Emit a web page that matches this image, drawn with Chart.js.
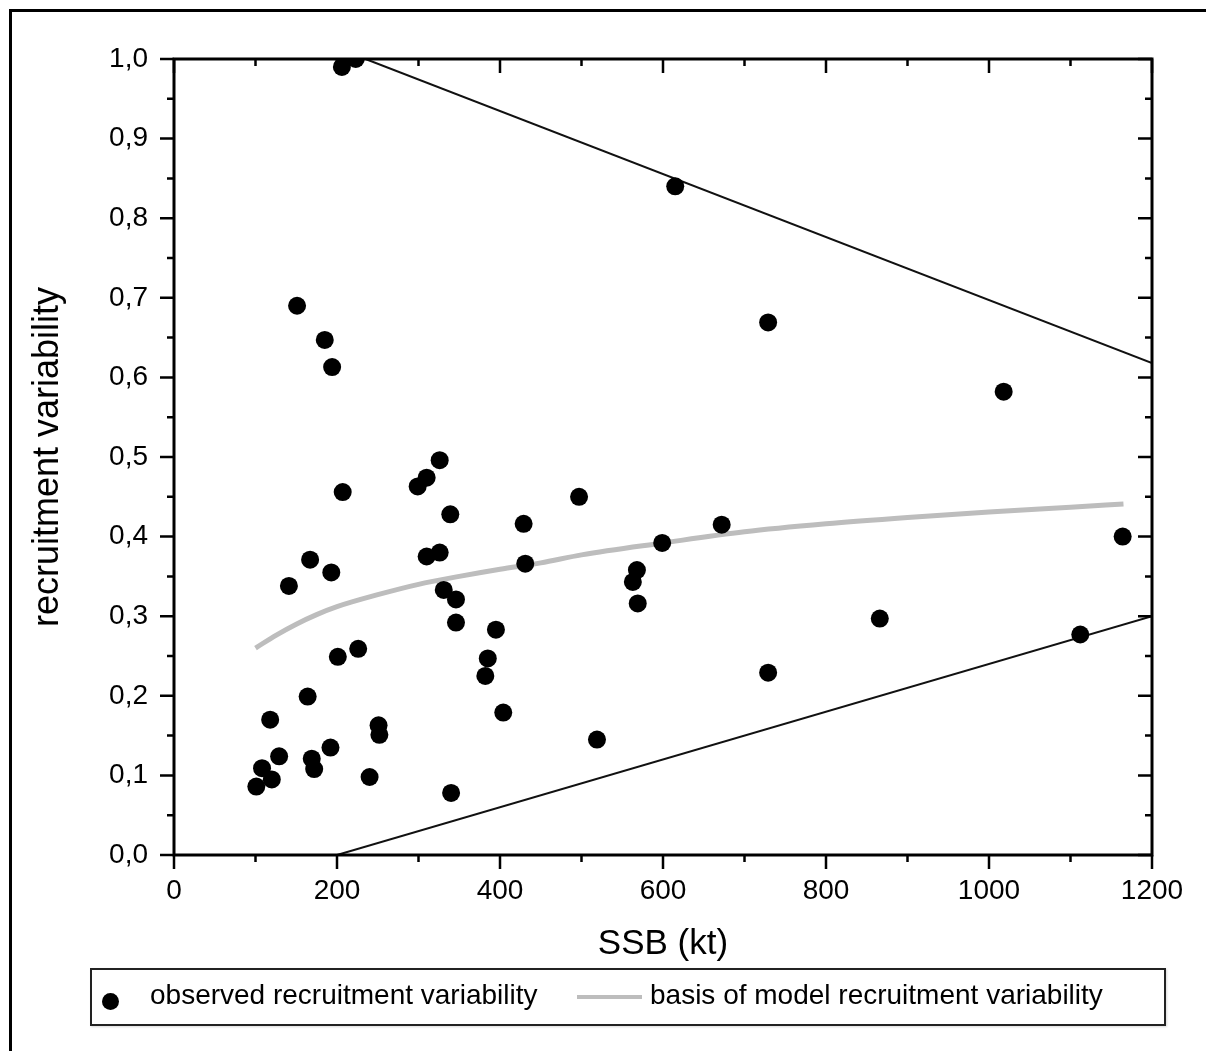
<!DOCTYPE html>
<html>
<head>
<meta charset="utf-8">
<script src="https://cdn.jsdelivr.net/npm/chart.js@4.4.1/dist/chart.umd.min.js"></script>
<style>
    body { margin: 0; background: #fff; }
    #wrap { position: relative; width: 1206px; height: 1051px; overflow: hidden; font-family: "Liberation Sans", Arial, sans-serif; color: #000; }
    #frame { position: absolute; left: 9px; top: 9px; width: 1300px; height: 1200px; border-left: 3px solid #000; border-top: 3px solid #000; }
    #chart { position: absolute; left: 0; top: 0; }
    #legend { position: absolute; left: 90px; top: 968px; width: 1076px; height: 58px; box-sizing: border-box; border: 2px solid #222; box-shadow: 1px 1px 2px rgba(0,0,0,0.15); }
    .lg { position: absolute; font-size: 28px; line-height: 28px; white-space: nowrap; }
    .dot { position: absolute; width: 17px; height: 17px; border-radius: 50%; background: #000; }
    .bar { position: absolute; height: 4px; background: #bdbdbd; }
</style>
</head>
<body>
<div id="wrap">
    <div id="frame"></div>
    <canvas id="chart" width="1206" height="1051"></canvas>
    <div id="legend"></div>
    <div class="dot" style="left:102px; top:993px;"></div>
    <div class="lg" style="left:150px; top:981px;">observed recruitment variability</div>
    <div class="bar" style="left:577px; top:995px; width:65px;"></div>
    <div class="lg" style="left:650px; top:981px;">basis of model recruitment variability</div>
</div>
<script>
// observed points (SSB in kt, recruitment variability)
const ssbObserved = [101, 108, 120, 118, 129, 141, 151, 164, 167, 169, 172, 185, 194, 193, 192, 201,
    207, 206, 223, 226, 240, 251, 252, 299, 310, 326, 310, 326, 331, 339, 346, 346, 340,
    385, 382, 395, 404, 429, 431, 497, 519, 563, 568, 569, 599, 615, 672, 729, 729, 866,
    1018, 1112, 1164];
const varObserved = [0.086, 0.109, 0.095, 0.170, 0.124, 0.338, 0.690, 0.199, 0.371, 0.121, 0.108, 0.647, 0.613, 0.355, 0.135, 0.249,
    0.456, 0.990, 1.000, 0.259, 0.098, 0.163, 0.151, 0.463, 0.474, 0.496, 0.375, 0.380, 0.333, 0.428, 0.321, 0.292, 0.078,
    0.247, 0.225, 0.283, 0.179, 0.416, 0.366, 0.450, 0.145, 0.343, 0.358, 0.316, 0.392, 0.840, 0.415, 0.669, 0.229, 0.297,
    0.582, 0.277, 0.400];

// grey model curve
const ssbModel = [100, 125, 150, 175, 200, 250, 300, 350, 400, 450, 500, 600, 700, 800, 900, 1000, 1100, 1165];
const varModel = [0.260, 0.276, 0.290, 0.302, 0.312, 0.327, 0.340, 0.350, 0.359, 0.367, 0.377, 0.392, 0.406, 0.416, 0.424, 0.431, 0.437, 0.441];

// envelope lines
const ssbUpper = [235, 1200];
const varUpper = [1.0, 0.618];
const ssbLower = [200, 1200];
const varLower = [0.0, 0.300];

const xTicks = [0, 200, 400, 600, 800, 1000, 1200];
const yTicks = [0, 0.1, 0.2, 0.3, 0.4, 0.5, 0.6, 0.7, 0.8, 0.9, 1.0];

const FONT = '"Liberation Sans", Arial, sans-serif';

function toPoints(xs, ys) {
    return xs.map((x, i) => ({ x: x, y: ys[i] }));
}

// frame + major/minor ticks on all four sides
const framePlugin = {
    id: 'frame',
    afterDatasetsDraw(chart) {
        const { ctx, chartArea: a, scales: { x, y } } = chart;
        const major = 14, minor = 7;
        ctx.save();
        ctx.strokeStyle = '#000';
        ctx.lineWidth = 2.5;
        ctx.lineCap = 'butt';
        ctx.beginPath();
        const xs = [];
        xTicks.forEach((v, i) => {
            xs.push([v, major]);
            if (i < xTicks.length - 1) xs.push([(v + xTicks[i + 1]) / 2, minor]);
        });
        xs.forEach(([v, len]) => {
            const px = x.getPixelForValue(v);
            ctx.moveTo(px, a.bottom); ctx.lineTo(px, a.bottom + len);
            ctx.moveTo(px, a.top); ctx.lineTo(px, a.top + len);
        });
        const ys = [];
        yTicks.forEach((v, i) => {
            ys.push([v, major]);
            if (i < yTicks.length - 1) ys.push([(v + yTicks[i + 1]) / 2, minor]);
        });
        ys.forEach(([v, len]) => {
            const py = y.getPixelForValue(v);
            ctx.moveTo(a.left, py); ctx.lineTo(a.left - len, py);
            ctx.moveTo(a.right, py); ctx.lineTo(a.right - len, py);
        });
        ctx.stroke();
        ctx.lineWidth = 3;
        ctx.strokeRect(a.left, a.top, a.right - a.left, a.bottom - a.top);
        ctx.restore();
    }
};

new Chart(document.getElementById('chart'), {
    type: 'scatter',
    data: {
        datasets: [{
            label: 'observed recruitment variability',
            data: toPoints(ssbObserved, varObserved),
            backgroundColor: '#000',
            borderColor: '#000',
            pointRadius: 9,
            pointBorderWidth: 0,
            clip: 0
        }, {
            label: 'basis of model recruitment variability',
            data: toPoints(ssbModel, varModel),
            showLine: true,
            borderColor: '#bdbdbd',
            borderWidth: 5,
            pointRadius: 0,
            cubicInterpolationMode: 'monotone'
        }, {
            label: 'upper',
            data: toPoints(ssbUpper, varUpper),
            showLine: true,
            borderColor: '#111',
            borderWidth: 2,
            pointRadius: 0
        }, {
            label: 'lower',
            data: toPoints(ssbLower, varLower),
            showLine: true,
            borderColor: '#111',
            borderWidth: 2,
            pointRadius: 0
        }]
    },
    options: {
        responsive: false,
        animation: false,
        layout: { padding: { left: 0, top: 59, right: 54, bottom: 83 } },
        plugins: {
            legend: { display: false },
            tooltip: { enabled: false }
        },
        scales: {
            x: {
                type: 'linear',
                min: 0,
                max: 1200,
                afterBuildTicks: s => { s.ticks = xTicks.map(v => ({ value: v })); },
                afterFit: s => { s.height = 113; },
                grid: { display: false, drawTicks: false },
                border: { display: false },
                ticks: {
                    padding: 19,
                    color: '#000',
                    font: { family: FONT, size: 28 },
                    callback: v => String(v)
                },
                title: {
                    display: true,
                    text: 'SSB (kt)',
                    color: '#000',
                    font: { family: FONT, size: 35 },
                    padding: { top: 0, bottom: 3 }
                }
            },
            y: {
                type: 'linear',
                min: 0,
                max: 1,
                afterBuildTicks: s => { s.ticks = yTicks.map(v => ({ value: v })); },
                afterFit: s => { s.width = 174; },
                grid: { display: false, drawTicks: false },
                border: { display: false },
                ticks: {
                    padding: 26,
                    color: '#000',
                    font: { family: FONT, size: 28 },
                    callback: v => v.toFixed(1).replace('.', ',')
                },
                title: {
                    display: true,
                    text: 'recruitment variability',
                    color: '#000',
                    font: { family: FONT, size: 36 },
                    padding: { top: 26, bottom: 0 }
                }
            }
        }
    },
    plugins: [framePlugin]
});
</script>
</body>
</html>
